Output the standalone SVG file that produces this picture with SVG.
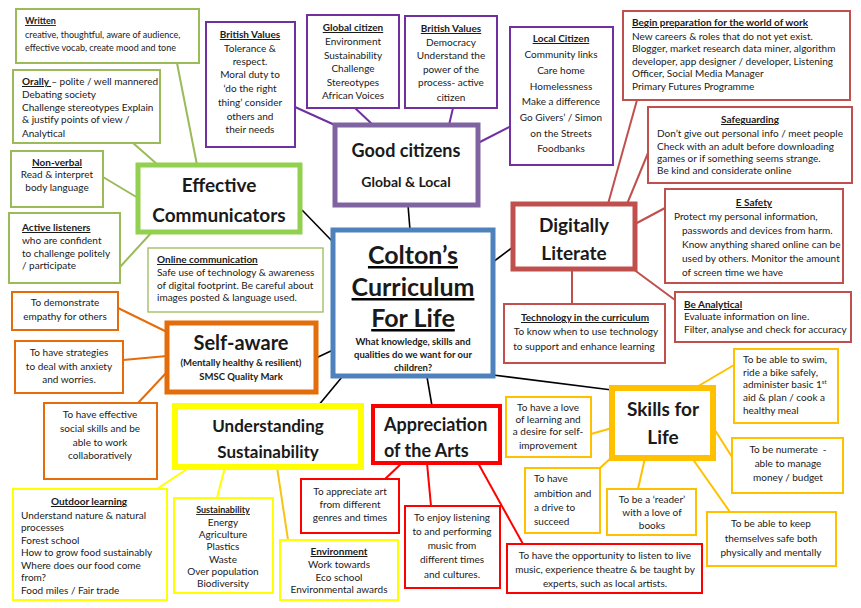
<svg xmlns="http://www.w3.org/2000/svg" width="861" height="608" viewBox="0 0 861 608">
<style>
text{font-family:Lato,"Liberation Sans",sans-serif;fill:#1a1a1a}
.t{font-size:10px}
.s{font-size:9px}
.m{text-anchor:middle}
.h{font-weight:bold}
.u{font-weight:bold;text-decoration:underline}
.box{fill:#fff;stroke-width:2}
.g{stroke:#9bbb59}.p{stroke:#7030a0}.r{stroke:#c0504d}.o{stroke:#e46c0a}.y{stroke:#ffff00}.a{stroke:#ff0000}.k{stroke:#ffc000}
.hub{fill:#fff}
.big{font-size:19px;font-weight:bold}
line{stroke-width:2}
</style>
<rect width="861" height="608" fill="#fff"/>
<g id="connectors">
  <g stroke="#000" stroke-width="1.6">
    <line x1="302" y1="210" x2="333" y2="242" style="stroke-width:1.6"/>
    <line x1="408" y1="205" x2="410" y2="230" style="stroke-width:1.6"/>
    <line x1="493" y1="262" x2="513" y2="247" style="stroke-width:1.6"/>
    <line x1="316" y1="358" x2="333" y2="350" style="stroke-width:1.6"/>
    <line x1="342" y1="377" x2="318" y2="406" style="stroke-width:1.6"/>
    <line x1="427" y1="377" x2="432" y2="406" style="stroke-width:1.6"/>
    <line x1="493" y1="375" x2="612" y2="390" style="stroke-width:1.6"/>
  </g>
  <g stroke="#9bbb59">
    <line x1="177" y1="63" x2="197" y2="165"/>
    <line x1="133" y1="143" x2="158" y2="165"/>
    <line x1="103" y1="177" x2="138" y2="198"/>
    <line x1="120" y1="267" x2="152" y2="232"/>
  </g>
  <g stroke="#7030a0">
    <line x1="295" y1="107" x2="337" y2="126"/>
    <line x1="355" y1="108" x2="373" y2="125"/>
    <line x1="453" y1="108" x2="449" y2="125"/>
    <line x1="511" y1="126" x2="478" y2="143"/>
  </g>
  <g stroke="#c0504d">
    <line x1="637" y1="100" x2="608" y2="204"/>
    <line x1="648" y1="153" x2="627" y2="204"/>
    <line x1="665" y1="208" x2="635" y2="224"/>
    <line x1="633" y1="269" x2="675" y2="300"/>
    <line x1="572" y1="269" x2="572" y2="304"/>
  </g>
  <g stroke="#e46c0a">
    <line x1="118" y1="308" x2="167" y2="332"/>
    <line x1="123" y1="360" x2="167" y2="356"/>
    <line x1="138" y1="403" x2="167" y2="372"/>
  </g>
  <g stroke="#ffff00">
    <line x1="157" y1="489" x2="190" y2="467"/>
    <line x1="217" y1="498" x2="225" y2="467"/>
  </g>
  <line x1="288" y1="540" x2="277" y2="467" stroke="#f5c518"/>
  <g stroke="#ff0000">
    <line x1="385" y1="479" x2="402" y2="463"/>
    <line x1="431" y1="506" x2="427" y2="463"/>
    <line x1="523" y1="544" x2="478" y2="463"/>
  </g>
  <g stroke="#ffc000">
    <line x1="695" y1="388" x2="734" y2="365"/>
    <line x1="591" y1="434" x2="612" y2="428"/>
    <line x1="600" y1="468" x2="612" y2="457"/>
    <line x1="638" y1="489" x2="645" y2="458"/>
    <line x1="713" y1="427" x2="732" y2="457"/>
    <line x1="730" y1="512" x2="692" y2="458"/>
  </g>
</g>

<g id="center">
  <rect x="333" y="230" width="160" height="146" fill="#fff" stroke="#4f81bd" stroke-width="5"/>
  <g text-anchor="middle" font-weight="bold" text-decoration="underline" style="font-size:25px">
    <text x="413" y="264">Colton’s</text>
    <text x="413" y="296">Curriculum</text>
    <text x="413" y="327">For Life</text>
  </g>
  <text class="h m" style="font-size:9.5px" x="413" y="345">What knowledge, skills and</text>
  <text class="h m" style="font-size:9.5px" x="413" y="358">qualities do we want for our</text>
  <text class="h m" style="font-size:9.5px" x="413" y="371">children?</text>
</g>

<g id="effective-communicators">
  <rect x="138" y="165" width="162" height="67" fill="#fff" stroke="#92d050" stroke-width="5"/>
  <text class="big m" x="219" y="192">Effective</text>
  <text class="big m" x="219" y="222">Communicators</text>
</g>
<g id="written">
  <rect class="box g" x="16" y="9" width="183" height="54"/>
  <text class="s u" x="25" y="24">Written</text>
  <text class="s" x="25" y="38">creative, thoughtful, aware of audience,</text>
  <text class="s" x="25" y="51">effective vocab, create mood and tone</text>
</g>
<g id="orally">
  <rect class="box g" x="13" y="70" width="147" height="73"/>
  <text class="t" x="22" y="85"><tspan class="u">Orally </tspan>– polite / well mannered</text>
  <text class="t" x="22" y="98">Debating society</text>
  <text class="t" x="22" y="111">Challenge stereotypes Explain</text>
  <text class="t" x="22" y="123">&amp; justify points of view /</text>
  <text class="t" x="22" y="137">Analytical</text>
</g>
<g id="non-verbal">
  <rect class="box g" x="11" y="151" width="92" height="56"/>
  <text class="t u m" x="57" y="166">Non-verbal</text>
  <text class="t m" x="57" y="178">Read &amp; interpret</text>
  <text class="t m" x="57" y="191">body language</text>
</g>
<g id="active-listeners">
  <rect class="box g" x="9" y="213" width="111" height="70"/>
  <text class="t u" x="22" y="231">Active listeners</text>
  <text class="t" x="22" y="244">who are confident</text>
  <text class="t" x="22" y="257">to challenge politely</text>
  <text class="t" x="22" y="269">/ participate</text>
</g>
<g id="online-communication">
  <rect x="148" y="248" width="175" height="64" fill="#fff" stroke="#9bbb59" stroke-width="1.3"/>
  <text class="t u" x="157" y="263">Online communication</text>
  <text class="t" x="157" y="276">Safe use of technology &amp; awareness</text>
  <text class="t" x="157" y="289">of digital footprint. Be careful about</text>
  <text class="t" x="157" y="301">images posted &amp; language used.</text>
</g>

<g id="good-citizens">
  <rect x="335" y="125" width="143" height="80" fill="#fff" stroke="#8064a2" stroke-width="5"/>
  <text class="m h" style="font-size:18px" x="406" y="157">Good citizens</text>
  <text class="m h" style="font-size:14px" x="406" y="187">Global &amp; Local</text>
</g>
<g id="british-values-1">
  <rect class="box p" x="206" y="22" width="89" height="125"/>
  <text class="t u m" x="250" y="38">British  Values</text>
  <text class="t m" x="250" y="52">Tolerance &amp;</text>
  <text class="t m" x="250" y="65">respect.</text>
  <text class="t m" x="250" y="78">Moral duty to</text>
  <text class="t m" x="250" y="92">‘do the right</text>
  <text class="t m" x="250" y="106">thing’ consider</text>
  <text class="t m" x="250" y="120">others and</text>
  <text class="t m" x="250" y="133">their needs</text>
</g>
<g id="global-citizen">
  <rect class="box p" x="307" y="15" width="92" height="93"/>
  <text class="t u m" x="353" y="31">Global citizen</text>
  <text class="t m" x="353" y="45">Environment</text>
  <text class="t m" x="353" y="59">Sustainability</text>
  <text class="t m" x="353" y="72">Challenge</text>
  <text class="t m" x="353" y="86">Stereotypes</text>
  <text class="t m" x="353" y="99">African Voices</text>
</g>
<g id="british-values-2">
  <rect class="box p" x="405" y="16" width="92" height="92"/>
  <text class="t u m" x="451" y="32">British  Values</text>
  <text class="t m" x="451" y="46">Democracy</text>
  <text class="t m" x="451" y="59">Understand  the</text>
  <text class="t m" x="451" y="73">power of the</text>
  <text class="t m" x="451" y="86">process- active</text>
  <text class="t m" x="451" y="101">citizen</text>
</g>
<g id="local-citizen">
  <rect class="box p" x="510" y="27" width="103" height="138"/>
  <text class="t u m" x="561" y="42">Local Citizen</text>
  <text class="t m" x="561" y="58">Community  links</text>
  <text class="t m" x="561" y="74">Care home</text>
  <text class="t m" x="561" y="90">Homelessness</text>
  <text class="t m" x="561" y="105">Make a difference</text>
  <text class="t m" x="561" y="121">Go Givers’ / Simon</text>
  <text class="t m" x="561" y="137">on the Streets</text>
  <text class="t m" x="561" y="152">Foodbanks</text>
</g>

<g id="digitally-literate">
  <rect x="513" y="204" width="122" height="65" fill="#fff" stroke="#c0504d" stroke-width="5"/>
  <text class="big m" x="574" y="232">Digitally</text>
  <text class="big m" x="574" y="260">Literate</text>
</g>
<g id="world-of-work">
  <rect class="box r" x="623" y="11" width="227" height="89"/>
  <text class="t u" x="632" y="26">Begin preparation  for the world  of work</text>
  <text class="t" x="632" y="40">New careers &amp; roles that do not yet exist.</text>
  <text class="t" x="632" y="52">Blogger, market research data miner, algorithm</text>
  <text class="t" x="632" y="65">developer, app designer / developer, Listening</text>
  <text class="t" x="632" y="77">Officer, Social Media Manager</text>
  <text class="t" x="632" y="90">Primary Futures Programme</text>
</g>
<g id="safeguarding">
  <rect class="box r" x="648" y="107" width="204" height="76"/>
  <text class="t u m" x="750" y="123">Safeguarding</text>
  <text class="t" x="657" y="137">Don’t give out personal info / meet people</text>
  <text class="t" x="657" y="150">Check with an adult before downloading</text>
  <text class="t" x="657" y="162">games or if something seems strange.</text>
  <text class="t" x="657" y="174">Be kind  and considerate online</text>
</g>
<g id="e-safety">
  <rect class="box r" x="665" y="189" width="178" height="94"/>
  <text class="t u m" x="754" y="206">E Safety</text>
  <text class="t" x="674" y="220">Protect my personal information,</text>
  <text class="t" x="682" y="234">passwords and devices from harm.</text>
  <text class="t" x="682" y="248">Know anything shared online can be</text>
  <text class="t" x="682" y="262">used by others. Monitor the amount</text>
  <text class="t" x="682" y="276">of screen time we have</text>
</g>
<g id="be-analytical">
  <rect class="box r" x="675" y="292" width="176" height="50"/>
  <text class="t u" x="684" y="308">Be Analytical</text>
  <text class="t" x="684" y="320">Evaluate information on line.</text>
  <text class="t" x="684" y="333">Filter, analyse and check for accuracy</text>
</g>
<g id="technology">
  <rect class="box r" x="504" y="304" width="161" height="59"/>
  <text class="t u m" x="585" y="321">Technology  in the curriculum</text>
  <text class="t m" x="586" y="335">To know when to use technology</text>
  <text class="t m" x="584" y="350">to support and enhance learning</text>
</g>

<g id="self-aware">
  <rect x="167" y="323" width="149" height="69" fill="#fff" stroke="#e46c0a" stroke-width="5"/>
  <text class="m h" style="font-size:20px" x="241" y="350">Self-aware</text>
  <text class="m h" style="font-size:9.5px" x="241" y="366">(Mentally healthy &amp; resilient)</text>
  <text class="m h" style="font-size:9.5px" x="241" y="380">SMSC Quality Mark</text>
</g>
<g id="empathy">
  <rect class="box o" x="12" y="292" width="106" height="38"/>
  <text class="t m" x="65" y="306">To demonstrate</text>
  <text class="t m" x="65" y="320">empathy for others</text>
</g>
<g id="strategies">
  <rect class="box o" x="15" y="341" width="108" height="52"/>
  <text class="t m" x="69" y="356">To have strategies</text>
  <text class="t m" x="69" y="370">to deal with anxiety</text>
  <text class="t m" x="69" y="383">and worries.</text>
</g>
<g id="social-skills">
  <rect class="box o" x="44" y="403" width="113" height="76"/>
  <text class="t m" x="100" y="418">To have effective</text>
  <text class="t m" x="100" y="432">social skills and be</text>
  <text class="t m" x="100" y="446">able to work</text>
  <text class="t m" x="100" y="459">collaboratively</text>
</g>

<g id="understanding-sustainability">
  <rect x="175" y="406" width="186" height="61" fill="#fff" stroke="#ffff00" stroke-width="6"/>
  <text class="m h" style="font-size:17px" x="268" y="432">Understanding</text>
  <text class="m h" style="font-size:17px" x="268" y="458">Sustainability</text>
</g>
<g id="outdoor-learning">
  <rect class="box y" x="13" y="489" width="154" height="111"/>
  <text class="t u m" x="89" y="505">Outdoor learning</text>
  <text class="t" x="21" y="519">Understand nature &amp; natural</text>
  <text class="t" x="21" y="531">processes</text>
  <text class="t" x="21" y="544">Forest school</text>
  <text class="t" x="21" y="556">How to grow food sustainably</text>
  <text class="t" x="21" y="569">Where does our food come</text>
  <text class="t" x="21" y="581">from?</text>
  <text class="t" x="21" y="594">Food miles / Fair trade</text>
</g>
<g id="sustainability">
  <rect class="box y" x="174" y="498" width="99" height="95"/>
  <text class="s u m" x="223" y="513">Sustainability</text>
  <text class="t m" x="223" y="526">Energy</text>
  <text class="t m" x="223" y="538">Agriculture</text>
  <text class="t m" x="223" y="550">Plastics</text>
  <text class="t m" x="223" y="563">Waste</text>
  <text class="t m" x="223" y="575">Over population</text>
  <text class="t m" x="223" y="587">Biodiversity</text>
</g>
<g id="environment">
  <rect class="box y" x="280" y="540" width="118" height="60"/>
  <text class="t u m" x="339" y="555">Environment</text>
  <text class="t m" x="339" y="568">Work towards</text>
  <text class="t m" x="339" y="581">Eco school</text>
  <text class="t m" x="339" y="593">Environmental awards</text>
</g>

<g id="appreciation-of-the-arts">
  <rect x="373" y="406" width="127" height="57" fill="#fff" stroke="#ff0000" stroke-width="4"/>
  <text class="h" style="font-size:18px" x="384" y="431">Appreciation</text>
  <text class="h" style="font-size:18px" x="384" y="457">of the Arts</text>
</g>
<g id="appreciate-art">
  <rect class="box a" x="301" y="479" width="98" height="54"/>
  <text class="t m" x="350" y="495">To appreciate art</text>
  <text class="t m" x="350" y="508">from different</text>
  <text class="t m" x="350" y="521">genres and times</text>
</g>
<g id="enjoy-listening">
  <rect class="box a" x="405" y="506" width="95" height="82"/>
  <text class="t m" x="452" y="521">To enjoy listening</text>
  <text class="t m" x="452" y="535">to and performing</text>
  <text class="t m" x="452" y="549">music from</text>
  <text class="t m" x="452" y="563">different times</text>
  <text class="t m" x="452" y="578">and cultures.</text>
</g>
<g id="opportunity">
  <rect class="box a" x="507" y="544" width="195" height="49"/>
  <text class="t m" x="605" y="559">To have the opportunity to listen to live</text>
  <text class="t m" x="605" y="573">music, experience theatre &amp; be taught by</text>
  <text class="t m" x="605" y="587">experts, such as local artists.</text>
</g>

<g id="skills-for-life">
  <rect x="612" y="388" width="101" height="70" fill="#fff" stroke="#ffc000" stroke-width="6"/>
  <text class="big m" x="663" y="416">Skills for</text>
  <text class="big m" x="663" y="444">Life</text>
</g>
<g id="love-of-learning">
  <rect class="box k" x="506" y="397" width="85" height="60"/>
  <text class="t m" x="548" y="411">To have a love</text>
  <text class="t m" x="548" y="423">of learning and</text>
  <text class="t m" x="548" y="435">a desire for self-</text>
  <text class="t m" x="548" y="449">improvement</text>
</g>
<g id="ambition">
  <rect class="box k" x="525" y="468" width="75" height="65"/>
  <text class="t" x="534" y="482">To have</text>
  <text class="t" x="534" y="497">ambition and</text>
  <text class="t" x="534" y="511">a drive to</text>
  <text class="t" x="534" y="525">succeed</text>
</g>
<g id="reader">
  <rect class="box k" x="607" y="489" width="89" height="46"/>
  <text class="t m" x="652" y="503">To be a ‘reader’</text>
  <text class="t m" x="652" y="516">with a love of</text>
  <text class="t m" x="652" y="529">books</text>
</g>
<g id="swim">
  <rect class="box k" x="734" y="349" width="104" height="74"/>
  <text class="t" x="743" y="363">To be able to swim,</text>
  <text class="t" x="743" y="376">ride a bike safely,</text>
  <text class="t" x="743" y="388">administer basic 1<tspan style="font-size:6px" dy="-4">st</tspan></text>
  <text class="t" x="743" y="401">aid &amp; plan / cook a</text>
  <text class="t" x="743" y="414">healthy meal</text>
</g>
<g id="numerate">
  <rect class="box k" x="732" y="438" width="111" height="55"/>
  <text class="t m" x="788" y="453" xml:space="preserve">To be numerate  -</text>
  <text class="t m" x="788" y="467">able to manage</text>
  <text class="t m" x="788" y="481">money / budget</text>
</g>
<g id="keep-safe">
  <rect class="box k" x="707" y="512" width="129" height="54"/>
  <text class="t m" x="771" y="527">To be able to keep</text>
  <text class="t m" x="771" y="542">themselves safe both</text>
  <text class="t m" x="771" y="556">physically and mentally</text>
</g>
</svg>
